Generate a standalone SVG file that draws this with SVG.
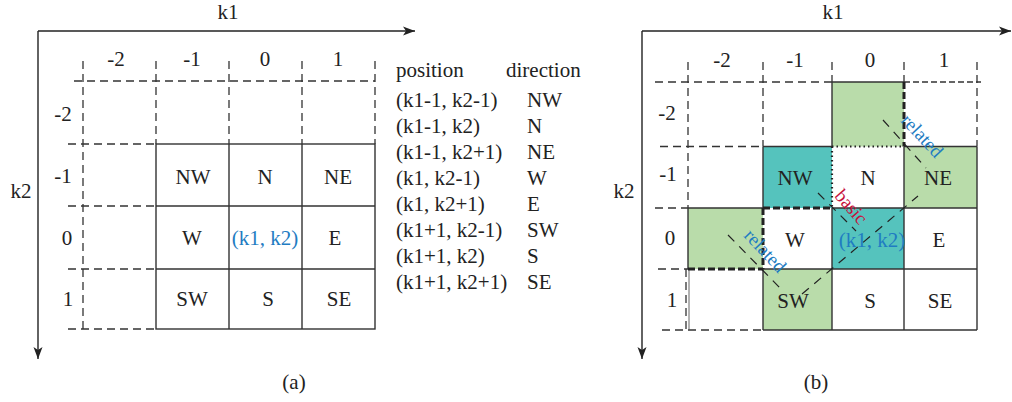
<svg xmlns="http://www.w3.org/2000/svg" width="1012" height="402" viewBox="0 0 1012 402">
<defs>
<marker id="arr" viewBox="0 0 12 10" refX="12" refY="5" markerWidth="12" markerHeight="10" markerUnits="userSpaceOnUse" orient="auto"><path d="M0,0.5 L12,5 L0,9.5 L3,5 z" fill="#222"/></marker>
<style>
.t{font-family:"Liberation Serif","Times New Roman",serif;font-size:21px;fill:#222}
.r{font-size:19px}
.c{text-anchor:middle}
.blue{fill:#1f7cc2}
.red{fill:#c6123c}
.ax{stroke:#222;stroke-width:1.4;fill:none}
.sol{stroke:#333;stroke-width:1.4;fill:none}
.thin{stroke:#555;stroke-width:0.9;fill:none}
.dash{stroke:#333;stroke-width:1.3;stroke-dasharray:8 5;fill:none}
.tdash{stroke:#222;stroke-width:3;stroke-dasharray:7 3;fill:none}
.dot{stroke:#222;stroke-width:2.2;stroke-dasharray:1.5 3;fill:none}
.tick{stroke:#333;stroke-width:1.5;stroke-dasharray:6 3;fill:none}
.diag{stroke:#222;stroke-width:1.2;stroke-dasharray:9 7;fill:none}
.green{fill:#b9dcaa}
.teal{fill:#55c3bd}
</style>
</defs>
<rect width="1012" height="402" fill="#fff"/>

<!-- Panel (a) -->
<g id="panel-a">
  <g id="a-axes-labels">
    <text class="t c" x="228" y="19">k1</text>
    <text class="t c" x="21" y="198">k2</text>
    <text class="t c" x="294" y="389">(a)</text>
    <text class="t c" x="116" y="66">-2</text>
    <text class="t c" x="192" y="66">-1</text>
    <text class="t c" x="265" y="66">0</text>
    <text class="t c" x="338" y="66">1</text>
    <text class="t c" x="63" y="121">-2</text>
    <text class="t c" x="63" y="183">-1</text>
    <text class="t c" x="67" y="245">0</text>
    <text class="t c" x="68" y="306">1</text>
  </g>
  <g id="a-grid-dashed">
    <path class="dash" d="M83,61 V329 M156,61 V144 M229,61 V144 M302,61 V144 M375,61 V144 M74,81 H375 M68,144 H156 M68,206 H156 M68,269 H156 M68,329 H156"/>
  </g>
  <g id="a-grid-solid">
    <rect class="sol" x="156" y="144" width="219" height="185"/>
    <path class="sol" d="M229,144 V329 M302,144 V329 M156,206 H375 M156,269 H375"/>
  </g>
  <g id="a-NW"><text class="t c" x="193" y="184">NW</text></g>
  <g id="a-N"><text class="t c" x="265" y="184">N</text></g>
  <g id="a-NE"><text class="t c" x="338" y="184">NE</text></g>
  <g id="a-W"><text class="t c" x="192" y="245">W</text></g>
  <g id="a-C"><text class="t c blue" x="265" y="245">(k1, k2)</text></g>
  <g id="a-E"><text class="t c" x="335" y="245">E</text></g>
  <g id="a-SW"><text class="t c" x="192" y="306">SW</text></g>
  <g id="a-S"><text class="t c" x="268" y="306">S</text></g>
  <g id="a-SE"><text class="t c" x="339" y="306">SE</text></g>
  <g id="a-table">
    <text class="t" x="396" y="77">position</text>
    <text class="t" x="506" y="77">direction</text>
    <text class="t" x="396" y="107">(k1-1, k2-1)</text><text class="t" x="527" y="107">NW</text>
    <text class="t" x="396" y="133">(k1-1, k2)</text><text class="t" x="527" y="133">N</text>
    <text class="t" x="396" y="159">(k1-1, k2+1)</text><text class="t" x="527" y="159">NE</text>
    <text class="t" x="396" y="185">(k1, k2-1)</text><text class="t" x="527" y="185">W</text>
    <text class="t" x="396" y="211">(k1, k2+1)</text><text class="t" x="527" y="211">E</text>
    <text class="t" x="396" y="237">(k1+1, k2-1)</text><text class="t" x="527" y="237">SW</text>
    <text class="t" x="396" y="263">(k1+1, k2)</text><text class="t" x="527" y="263">S</text>
    <text class="t" x="396" y="289">(k1+1, k2+1)</text><text class="t" x="527" y="289">SE</text>
  </g>
</g>

<!-- Panel (b) -->
<g id="panel-b">
  <g id="b-fills">
    <rect class="green" x="832" y="82" width="72" height="64.5"/>
    <rect class="green" x="904" y="146.5" width="73" height="61.5"/>
    <rect class="green" x="688" y="208" width="75" height="61"/>
    <rect class="green" x="763" y="269" width="69" height="61"/>
    <rect class="teal" x="763" y="146.5" width="69" height="61.5"/>
    <rect class="teal" x="832" y="208" width="72" height="61"/>
  </g>
  <g id="b-axes-labels">
    <text class="t c" x="833" y="19">k1</text>
    <text class="t c" x="624" y="198">k2</text>
    <text class="t c" x="816" y="389">(b)</text>
    <text class="t c" x="722" y="67">-2</text>
    <text class="t c" x="795" y="67">-1</text>
    <text class="t c" x="870" y="67">0</text>
    <text class="t c" x="944" y="67">1</text>
    <text class="t c" x="667" y="120">-2</text>
    <text class="t c" x="668" y="181">-1</text>
    <text class="t c" x="670" y="245">0</text>
    <text class="t c" x="672" y="307">1</text>
  </g>
  <g id="b-grid-dashed">
    <path class="dash" d="M688,62 V208 M763,62 V146.5 M832,62 V82 M904,62 V82 M977,62 V146.5 M655,82 H832 M660,146.5 H763 M655,208 H688 M658,269 H688 M662,330 H763 M686,269 V330"/>
    <path class="tick" d="M904,82 H981"/>
  </g>
  <g id="b-grid-solid">
    <path class="sol" d="M763,146.5 H832 M904,146.5 H977 M688,208 H763 M832,208 H977 M763,269 H977 M763,330 H977 M763,146.5 V208 M763,269 V330 M832,82 V146.5 M832,208 V330 M904,146.5 V330 M977,146.5 V330 M832,82 H904 M688,208 V269"/>
    <path class="thin" d="M689,269 V330"/>
    <path class="tdash" d="M763,208 H832 M763,208 V269 M688,269 H763 M904,82 V146.5"/>
    <path class="dot" d="M832,146.5 H904 M832,146.5 V208"/>
  </g>
  <g id="b-NW"><text class="t c" x="795" y="185">NW</text></g>
  <g id="b-N"><text class="t c" x="868" y="185">N</text></g>
  <g id="b-NE"><text class="t c" x="938" y="185">NE</text></g>
  <g id="b-W"><text class="t c" x="795" y="247">W</text></g>
  <g id="b-C"><text class="t c blue" x="872" y="247">(k1, k2)</text></g>
  <g id="b-E"><text class="t c" x="939" y="247">E</text></g>
  <g id="b-SW"><text class="t c" x="793" y="308">SW</text></g>
  <g id="b-S"><text class="t c" x="870" y="308">S</text></g>
  <g id="b-SE"><text class="t c" x="940" y="308">SE</text></g>
  <g id="b-labels">
    <text class="t r c blue" transform="translate(922,136) rotate(47)" y="6">related</text>
    <text class="t r c red" transform="translate(851,207) rotate(49)" y="6">basic</text>
    <text class="t r c blue" transform="translate(765,251) rotate(47)" y="6">related</text>
  </g>
</g>

<g id="connectors">
  <line class="ax" x1="38" y1="31" x2="415" y2="31" marker-end="url(#arr)"/>
  <line class="ax" x1="38" y1="31" x2="38" y2="359" marker-end="url(#arr)"/>
  <line class="ax" x1="642" y1="31" x2="1011" y2="31" marker-end="url(#arr)"/>
  <line class="ax" x1="642" y1="31" x2="642" y2="359" marker-end="url(#arr)"/>
  <path class="diag" d="M883,120 L926,168"/>
  <path class="diag" d="M818,193 L856,231"/>
  <path class="diag" d="M728,235 L781,289"/>
  <path class="diag" d="M802,294 L918,196"/>
</g>
</svg>
